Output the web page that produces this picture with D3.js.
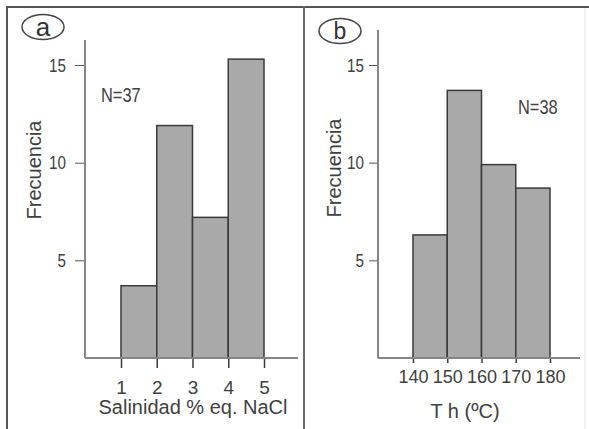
<!DOCTYPE html>
<html>
<head>
<meta charset="utf-8">
<script src="https://cdn.jsdelivr.net/npm/d3@7"></script>
<style>
  html, body { margin: 0; padding: 0; background: #fff; }
  svg { display: block; font-family: "Liberation Sans", Arial, sans-serif; }
</style>
</head>
<body>
<svg id="chart" width="589" height="429"></svg>
<script>
// Histogram (a): salinity classes, % eq. NaCl
const salinityEdges = [1, 2, 3, 4, 5];
const salinityCounts = [3.7, 11.9, 7.2, 15.3];
const salinityN = "N=37";

// Histogram (b): homogenisation temperature classes, °C
const thEdges = [140, 150, 160, 170, 180];
const thCounts = [6.3, 13.7, 9.9, 8.7];
const thN = "N=38";

const freqTicks = [5, 10, 15];

const svg = d3.select("#chart");
const ink = "#3a3a3a";
const axisGrey = "#858585";
const barFill = "#a9a9a9";
const textCol = "#404040";

// outer frame and panel divider
svg.append("line").attr("x1", 6).attr("x2", 589).attr("y1", 7).attr("y2", 7)
  .attr("stroke", "#555").attr("stroke-width", 2);
svg.append("line").attr("x1", 7).attr("x2", 7).attr("y1", 6).attr("y2", 429)
  .attr("stroke", "#555").attr("stroke-width", 2);
svg.append("line").attr("x1", 304).attr("x2", 304).attr("y1", 6).attr("y2", 429)
  .attr("stroke", "#6a6a6a").attr("stroke-width", 2);
svg.append("line").attr("x1", 585).attr("x2", 585).attr("y1", 8).attr("y2", 429)
  .attr("stroke", "#e4e4e4").attr("stroke-width", 1);

function panel(cfg) {
  const g = svg.append("g");
  const x = d3.scaleLinear().domain([cfg.edges[0], cfg.edges[cfg.edges.length - 1]])
    .range([cfg.x0, cfg.x1]);
  const y = d3.scaleLinear().domain([0, 15]).range([cfg.base, 65]);

  // bars
  const bins = cfg.counts.map((c, i) => ({ lo: cfg.edges[i], hi: cfg.edges[i + 1], c }));
  g.selectAll("rect.bar").data(bins).join("rect")
    .attr("class", "bar")
    .attr("x", d => x(d.lo))
    .attr("width", d => x(d.hi) - x(d.lo))
    .attr("y", d => y(d.c))
    .attr("height", d => y(0) - y(d.c))
    .attr("fill", barFill)
    .attr("stroke", ink)
    .attr("stroke-width", 1.5);

  // y axis
  const ya = g.append("g").attr("transform", `translate(${cfg.yAxisX},0)`)
    .call(d3.axisLeft(y).tickValues(freqTicks).tickSize(cfg.yTick).tickSizeOuter(0));
  ya.select(".domain").remove();
  ya.selectAll(".tick line").attr("stroke", "#555").attr("stroke-width", 1);
  const sx = 0.8;
  ya.selectAll(".tick text")
    .attr("x", -(cfg.yTick + cfg.yPad) / sx)
    .attr("transform", `scale(${sx},1)`)
    .attr("font-size", 19)
    .attr("fill", textCol)
    .attr("font-family", "Liberation Sans, Arial, sans-serif");
  g.append("line")
    .attr("x1", cfg.yAxisX).attr("x2", cfg.yAxisX)
    .attr("y1", cfg.axisTop).attr("y2", y(0))
    .attr("stroke", axisGrey).attr("stroke-width", 2);

  // x axis
  const xa = g.append("g").attr("transform", `translate(0,${y(0)})`)
    .call(d3.axisBottom(x).tickValues(cfg.edges).tickSize(cfg.xTick).tickSizeOuter(0)
      .tickFormat(d3.format("d")));
  xa.select(".domain").remove();
  xa.selectAll(".tick line").attr("stroke", ink).attr("stroke-width", 1.5);
  xa.selectAll(".tick text")
    .attr("y", cfg.xLabelY - y(0))
    .attr("dy", "0.35em")
    .attr("font-size", cfg.xLabelSize)
    .attr("fill", textCol)
    .attr("font-family", "Liberation Sans, Arial, sans-serif");
  g.append("line")
    .attr("x1", cfg.yAxisX).attr("x2", cfg.xAxisEnd)
    .attr("y1", y(0)).attr("y2", y(0))
    .attr("stroke", axisGrey).attr("stroke-width", 2);

  // axis titles
  g.append("text")
    .attr("transform", `translate(${cfg.yTitleX},${cfg.yTitleY}) rotate(-90)`)
    .attr("text-anchor", "middle").attr("dy", "0.35em")
    .attr("font-size", 20).attr("fill", textCol)
    .text("Frecuencia");
  g.append("text")
    .attr("x", cfg.xTitleX).attr("y", cfg.xTitleY)
    .attr("text-anchor", "middle").attr("dy", "0.35em")
    .attr("font-size", 20).attr("fill", textCol)
    .text(cfg.xTitle);

  // sample size
  g.append("g").attr("transform", `translate(${cfg.nX},${cfg.nY}) scale(0.82,1)`)
    .append("text")
    .attr("dy", "0.35em")
    .attr("font-size", 20).attr("fill", textCol)
    .text(cfg.nText);

  // panel letter in an ellipse
  g.append("ellipse")
    .attr("cx", cfg.ex).attr("cy", cfg.ey).attr("rx", 21).attr("ry", 12.5)
    .attr("fill", "none").attr("stroke", "#444").attr("stroke-width", 1.5);
  g.append("text")
    .attr("x", cfg.ex).attr("y", cfg.ey + cfg.letterDy)
    .attr("text-anchor", "middle")
    .attr("font-size", cfg.letterSize).attr("fill", "#333")
    .text(cfg.letter);
}

panel({
  edges: salinityEdges, counts: salinityCounts, nText: salinityN, letter: "a",
  letterSize: 26, letterDy: 9,
  x0: 121, x1: 264, base: 358, yAxisX: 85, axisTop: 40, xAxisEnd: 298,
  yTick: 10, yPad: 9, xTick: 10, xLabelY: 387, xLabelSize: 19,
  yTitleX: 34, yTitleY: 170, xTitleX: 193, xTitleY: 407, xTitle: "Salinidad % eq. NaCl",
  nX: 101, nY: 95, ex: 43, ey: 27
});

panel({
  edges: thEdges, counts: thCounts, nText: thN, letter: "b",
  letterSize: 23, letterDy: 8,
  x0: 413, x1: 550, base: 358, yAxisX: 378, axisTop: 30, xAxisEnd: 580,
  yTick: 9, yPad: 5, xTick: 5, xLabelY: 377, xLabelSize: 18,
  yTitleX: 334, yTitleY: 168, xTitleX: 465, xTitleY: 411, xTitle: "T h (ºC)",
  nX: 518, nY: 107, ex: 340, ey: 31
});
</script>
</body>
</html>
